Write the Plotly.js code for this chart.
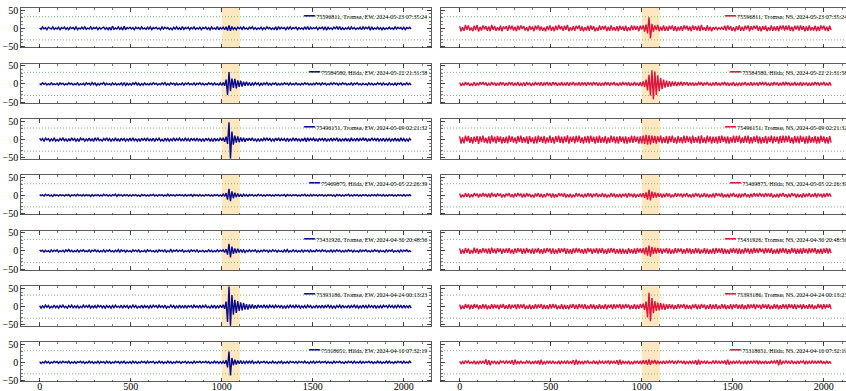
<!DOCTYPE html>
<html><head><meta charset="utf-8">
<script src="https://cdn.plot.ly/plotly-3.0.1.min.js"></script>
<style>html,body{margin:0;padding:0;overflow:hidden;background:#fff}#chart{width:851px;height:391px}</style>
</head><body><div id="chart"></div>
<script>
const sampleStep = 8;
const windowRange = [1000, 1100];
const thresholds = [32, -32];
const xTicks = [0, 500, 1000, 1500, 2000];
const yTicks = [-50, 0, 50];

const labelsEW = [
  "75596811, Tromsø, EW, 2024-05-23 07:35:24",
  "75584580, Hilda, EW, 2024-05-22 21:31:58",
  "75496151, Tromsø, EW, 2024-05-09 02:21:32",
  "75469875, Hilda, EW, 2024-05-05 22:26:39",
  "75431926, Tromsø, EW, 2024-04-30 20:48:56",
  "75393186, Tromsø, EW, 2024-04-24 00:13:23",
  "75318651, Hilda, EW, 2024-04-10 07:32:19"
];
const labelsNS = [
  "75596811, Tromsø, NS, 2024-05-23 07:35:24",
  "75584580, Hilda, NS, 2024-05-22 21:31:58",
  "75496151, Tromsø, NS, 2024-05-09 02:21:32",
  "75469875, Hilda, NS, 2024-05-05 22:26:39",
  "75431926, Tromsø, NS, 2024-04-30 20:48:56",
  "75393186, Tromsø, NS, 2024-04-24 00:13:23",
  "75318651, Hilda, NS, 2024-04-10 07:32:19"
];

const ew1 = [1,-3,4,-2,2,-4,3,0,-2,4,-3,1,-2,3,-4,2,
-1,3,-3,2,-4,3,-1,2,-3,5,-4,1,-2,3,-2,4,
-3,1,-2,4,-3,2,-1,3,-4,2,-2,1,3,-3,2,-4,
3,-5,6,-3,1,-2,4,-3,2,-5,6,-4,2,-1,3,-2,
2,-4,3,-1,2,-3,4,-2,1,-3,3,-2,4,-4,2,-1,
3,-2,1,-4,4,-2,3,-1,2,-3,1,-4,3,-2,4,-3,
2,-4,5,-3,2,-1,3,-4,2,-2,4,-3,1,-2,3,-4,
2,-1,3,-3,2,-4,4,-2,1,-3,5,-4,2,-2,3,-4,
4,-6,8,-7,5,-3,2,-4,3,-1,3,-3,4,-2,1,-3,
3,-1,4,-3,2,-3,1,-2,3,-4,2,-3,4,-1,2,-3,
1,-3,4,-5,5,-2,3,-1,2,-4,3,-2,4,-3,2,-1,
3,-4,2,-2,1,-3,4,-3,5,-4,3,-2,2,-1,3,-4,
2,-1,3,-3,4,-5,3,-2,1,-3,3,-1,4,-3,5,-4,
2,-3,1,-2,3,-4,4,-2,2,-3,1,-2,3,-4,4,-2,
3,-1,4,-5,4,-3,1,-2,3,-3,2,-4,2,-3,1,-2,
3,-2,1,-3,4,-2,3,-1,2,-3,3,-4,2,-1,3,-2];

const ew2 = [1,-2,3,-1,2,-3,1,-2,3,-2,1,-2,2,-3,3,-1,
2,-3,1,-2,3,-1,2,-3,1,-2,3,-3,1,-2,2,-3,
3,-1,2,-3,4,-2,3,-4,1,-3,2,-1,4,-3,2,-2,
1,-3,3,-2,2,-3,1,-2,3,-3,4,-4,2,-3,1,-3,
3,-1,4,-3,2,-4,1,-3,3,-2,1,-3,2,-2,3,-1,
2,-3,1,-2,3,-2,4,-3,1,-3,3,-1,2,-3,2,-3,
1,-2,3,-3,2,-1,3,-2,1,-2,3,-3,2,-1,3,-2,
2,-3,1,-2,3,-1,2,-3,3,-2,1,-3,3,-4,4,-5,
12,-30,33,-20,15,-11,14,-12,10,-8,9,-7,6,-5,6,-4,
4,-5,3,-3,4,-2,3,-4,2,-3,3,-2,4,-3,2,-3,
2,-1,3,-3,1,-3,2,-2,3,-1,2,-3,3,-2,1,-2,
3,-2,1,-3,2,-2,3,-1,2,-3,1,-3,2,-2,3,-1,
2,-3,3,-1,2,-3,1,-2,3,-2,3,-1,2,-3,2,-2,
3,-1,2,-3,1,-2,3,-3,2,-1,3,-2,1,-3,2,-2,
1,-3,3,-2,2,-3,1,-2,3,-1,2,-3,3,-2,1,-3,
3,-2,1,-3,2,-3,2,-1,3,-3,1,-2,3,-2,2,-3];

const ew3 = [4,-2,3,-5,4,-1,3,-4,2,-3,5,-4,1,-4,3,-2,
4,-3,2,-5,3,-4,5,-2,3,-4,2,-5,4,-1,3,-4,
2,-3,4,-4,3,-5,5,-2,4,-3,1,-4,3,-2,5,-3,
3,-4,2,-3,5,-4,3,-5,4,-2,3,-4,2,-3,4,-4,
5,-3,2,-4,3,-5,4,-2,3,-3,5,-4,2,-3,4,-5,
3,-2,4,-4,1,-5,4,-3,3,-4,2,-3,5,-4,3,-2,
4,-3,2,-4,5,-3,3,-5,4,-2,3,-4,4,-3,2,-4,
3,-5,4,-2,3,-4,2,-5,4,-3,2,-4,5,-3,5,-6,
8,-12,48,-53,22,-14,11,-8,9,-7,6,-5,5,-6,4,-3,
4,-3,5,-4,2,-4,3,-5,3,-4,4,-2,5,-3,4,-4,
2,-4,4,-3,5,-4,3,-2,3,-5,4,-4,2,-3,5,-4,
4,-3,2,-4,3,-4,5,-6,5,-3,3,-2,4,-4,3,-5,
4,-2,3,-3,4,-5,2,-3,4,-4,3,-2,5,-5,3,-4,
2,-3,4,-4,3,-5,5,-4,2,-3,4,-4,3,-2,4,-3,
4,-5,3,-4,5,-2,3,-3,4,-4,2,-3,4,-5,3,-3,
3,-4,2,-3,4,-4,3,-5,5,-3,3,-4,2,-4,3,-2];

const ew4 = [2,-1,1,-2,3,-1,2,-2,1,-3,2,-1,1,-2,2,-1,
1,-2,2,-1,2,-3,1,-1,2,-2,3,-1,1,-2,2,-2,
2,-1,1,-3,2,-2,1,-1,2,-2,1,-2,3,-1,2,-2,
1,-2,2,-1,3,-3,2,-1,1,-2,2,-1,2,-2,1,-2,
2,-1,2,-2,1,-3,2,-1,2,-2,1,-2,2,-1,3,-2,
1,-2,2,-1,2,-2,1,-2,3,-2,2,-1,1,-2,2,-1,
2,-1,1,-2,2,-2,1,-1,2,-3,2,-1,1,-2,2,-2,
1,-2,2,-1,2,-2,1,-2,2,-1,2,-2,1,-2,3,-3,
6,-12,18,-16,11,-8,7,-5,5,-4,3,-4,3,-2,2,-3,
2,-1,2,-2,1,-2,3,-1,2,-2,1,-2,2,-1,2,-2,
1,-2,2,-1,2,-2,1,-1,2,-3,2,-1,1,-2,2,-1,
2,-2,1,-2,2,-1,3,-2,1,-2,2,-2,2,-1,1,-2,
2,-1,2,-2,1,-2,2,-1,2,-2,1,-3,2,-1,2,-2,
1,-2,2,-1,3,-2,1,-2,2,-1,2,-2,1,-2,2,-1,
2,-2,1,-2,2,-1,2,-2,3,-1,1,-2,2,-2,1,-2,
2,-1,2,-2,1,-2,2,-1,1,-2,2,-2,1,-1,2,-2];

const ew5 = [3,-1,2,-3,2,-2,1,-3,3,-2,2,-1,3,-3,1,-2,
2,-3,3,-1,4,-2,2,-3,1,-2,3,-3,2,-1,3,-2,
1,-2,3,-3,2,-1,3,-2,2,-3,1,-2,3,-3,2,-1,
3,-2,1,-3,2,-2,4,-4,3,-1,2,-3,2,-2,1,-3,
3,-1,2,-2,3,-3,1,-2,2,-3,3,-1,2,-2,1,-3,
2,-3,3,-1,2,-2,3,-3,1,-2,4,-3,2,-1,3,-2,
2,-1,3,-3,1,-2,2,-3,3,-1,2,-2,3,-3,1,-2,
2,-3,1,-2,3,-2,2,-3,1,-2,3,-2,2,-1,3,-4,
5,-10,20,-18,12,-8,7,-6,6,-4,4,-3,3,-4,2,-2,
3,-2,2,-1,3,-3,1,-3,2,-2,3,-1,2,-3,2,-2,
3,-1,2,-3,2,-2,1,-3,3,-2,4,-3,1,-2,3,-2,
2,-3,1,-2,3,-3,2,-1,2,-3,3,-2,1,-2,3,-1,
2,-2,3,-1,2,-3,1,-2,3,-3,2,-2,3,-1,2,-3,
1,-3,2,-2,3,-1,2,-3,2,-2,1,-3,3,-2,2,-1,
3,-2,1,-3,2,-2,3,-1,2,-3,2,-2,1,-3,3,-2,
2,-1,3,-3,1,-2,2,-3,3,-2,2,-1,3,-2,1,-2];

const ew6 = [3,-4,2,-3,4,-2,3,-4,1,-3,4,-3,2,-4,3,-2,
4,-3,1,-4,3,-2,4,-3,2,-3,3,-4,1,-3,4,-2,
3,-2,4,-4,2,-3,3,-4,4,-1,3,-3,2,-4,3,-2,
2,-4,3,-3,4,-2,1,-3,4,-4,3,-2,3,-4,2,-3,
4,-2,3,-4,1,-3,4,-4,3,-2,2,-4,3,-3,4,-1,
3,-4,4,-2,2,-3,4,-4,1,-3,4,-2,3,-4,2,-3,
4,-3,2,-3,4,-4,3,-1,3,-4,4,-2,2,-3,4,-4,
3,-2,4,-3,1,-4,3,-3,4,-4,2,-3,4,-3,5,-6,
14,-42,56,-54,32,-22,19,-17,15,-12,12,-10,10,-8,7,-8,
6,-5,6,-5,4,-5,5,-3,4,-4,5,-3,3,-4,4,-2,
3,-4,4,-2,3,-3,4,-4,2,-4,3,-3,4,-2,3,-4,
4,-2,3,-4,2,-3,3,-4,4,-2,3,-4,1,-3,4,-3,
2,-3,4,-4,3,-2,4,-3,3,-4,2,-4,3,-2,4,-4,
4,-3,1,-3,4,-4,3,-2,4,-3,3,-4,2,-3,4,-3,
3,-4,4,-2,3,-3,4,-4,2,-3,3,-4,4,-1,3,-3,
4,-2,3,-4,3,-3,4,-2,3,-4,4,-3,2,-3,4,-4];

const ew7 = [2,-3,1,-2,3,-2,2,-3,1,-2,3,-1,2,-3,2,-2,
3,-1,2,-2,3,-3,1,-2,2,-3,2,-1,3,-2,2,-3,
1,-2,3,-2,2,-3,1,-2,3,-3,2,-1,2,-3,3,-2,
2,-3,1,-2,3,-1,2,-3,2,-2,3,-3,1,-2,2,-3,
3,-2,2,-3,1,-2,3,-1,2,-3,3,-2,2,-1,3,-3,
1,-2,3,-2,2,-3,1,-2,3,-2,2,-3,1,-2,3,-1,
2,-3,2,-1,3,-3,2,-2,1,-3,3,-2,2,-1,3,-2,
2,-1,3,-2,2,-3,1,-2,3,-2,2,-3,2,-3,3,-4,
6,-14,30,-36,12,-8,7,-6,5,-4,5,-4,3,-3,3,-2,
3,-2,4,-3,1,-2,3,-3,2,-1,3,-2,2,-3,1,-2,
3,-2,1,-3,2,-2,3,-3,1,-2,2,-3,3,-1,2,-2,
2,-3,3,-1,2,-2,3,-2,1,-3,2,-2,3,-3,2,-1,
3,-2,2,-1,3,-3,2,-2,1,-3,3,-2,2,-1,3,-2,
1,-3,2,-2,3,-1,2,-3,3,-2,1,-2,3,-3,2,-2,
2,-1,3,-2,2,-3,1,-2,3,-2,2,-3,1,-2,3,-2,
3,-2,1,-3,2,-2,3,-1,2,-3,3,-2,1,-2,3,-2];

const ns1 = [6,-8,3,-7,9,-4,8,-6,2,-8,7,-5,9,-9,4,-6,
8,-3,6,-7,5,-8,9,-4,6,-7,3,-6,7,-8,5,-2,
6,-7,8,-3,7,-6,4,-8,7,-5,8,-2,6,-6,3,-8,
7,-4,5,-8,7,-3,8,-6,5,-7,2,-8,6,-5,8,-7,
4,-8,7,-5,9,-3,6,-7,7,-4,9,-8,3,-6,6,-7,
7,-2,8,-7,5,-8,3,-6,7,-7,8,-4,6,-8,2,-7,
8,-5,6,-3,7,-8,4,-7,8,-6,3,-7,6,-8,7,-4,
5,-7,7,-8,3,-6,8,-5,7,-4,6,-8,7,-3,8,-9,
10,-14,30,-28,12,-9,8,-5,9,-8,4,-6,8,-7,5,-7,
7,-3,8,-7,6,-8,4,-6,6,-7,8,-3,7,-6,5,-8,
8,-4,6,-6,7,-8,9,-5,3,-7,8,-6,4,-8,3,-2,
3,-4,2,-3,3,-4,7,-6,8,-4,6,-7,3,-8,6,-5,
8,-7,4,-7,7,-3,8,-8,6,-5,7,-2,8,-7,5,-8,
6,-4,7,-8,3,-6,8,-7,5,-6,6,-8,7,-3,8,-6,
7,-5,8,-7,4,-8,7,-3,7,-6,8,-4,6,-8,5,-7,
8,-6,3,-6,7,-8,5,-7,8,-3,7,-6,4,-8,7,-5];

const ns2 = [4,-5,2,-4,5,-3,4,-5,1,-4,5,-5,3,-4,5,-2,
5,-3,4,-5,2,-4,5,-3,4,-5,3,-4,5,-2,4,-5,
3,-4,5,-2,4,-5,3,-4,5,-5,2,-4,4,-5,5,-3,
4,-5,2,-4,5,-3,4,-4,5,-5,3,-2,5,-4,4,-5,
5,-2,4,-5,3,-4,5,-4,2,-4,5,-5,4,-3,5,-4,
3,-4,5,-5,4,-2,4,-5,5,-3,4,-4,5,-2,4,-5,
4,-5,3,-4,5,-2,4,-5,4,-3,5,-4,2,-5,4,-4,
5,-3,4,-4,5,-5,2,-4,5,-4,3,-5,5,-6,7,-8,
12,-18,25,-32,38,-42,34,-30,24,-20,16,-14,12,-10,9,-8,
8,-7,7,-5,6,-6,5,-4,6,-5,5,-3,5,-5,4,-4,
4,-5,3,-4,4,-2,5,-5,4,-3,5,-4,2,-5,4,-4,
5,-4,3,-5,4,-2,5,-4,4,-5,3,-4,5,-5,2,-4,
4,-5,4,-3,5,-4,2,-4,5,-5,4,-3,4,-5,5,-2,
4,-3,5,-4,2,-5,4,-4,5,-3,4,-5,3,-4,5,-4,
5,-2,4,-5,3,-4,5,-4,2,-4,5,-5,4,-3,4,-5,
3,-5,4,-4,5,-2,4,-5,4,-3,5,-4,2,-4,5,-5];

const ns3 = [9,-11,6,-10,11,-5,10,-9,7,-11,8,-6,10,-12,9,-7,
11,-8,5,-10,9,-11,12,-7,8,-10,10,-6,9,-11,7,-9,
8,-10,11,-6,9,-8,6,-11,10,-7,11,-9,7,-8,9,-12,
10,-7,6,-11,9,-10,11,-6,8,-9,10,-11,6,-8,11,-9,
7,-11,10,-6,11,-9,8,-10,9,-7,12,-11,8,-6,9,-10,
10,-7,11,-9,6,-11,9,-8,10,-10,11,-6,8,-11,9,-9,
11,-9,7,-8,10,-11,6,-9,11,-7,9,-10,8,-11,10,-6,
8,-10,9,-11,7,-8,11,-9,10,-6,8,-11,9,-10,11,-12,
13,-14,12,-13,11,-9,10,-11,9,-7,11,-10,7,-9,10,-11,
10,-7,11,-9,6,-11,10,-8,7,-10,11,-9,10,-7,8,-11,
11,-9,7,-8,10,-11,12,-9,6,-10,11,-7,9,-11,8,-9,
8,-11,10,-9,11,-6,8,-10,9,-11,7,-8,11,-9,10,-7,
11,-10,6,-9,10,-8,11,-11,7,-10,9,-6,11,-10,8,-11,
7,-9,10,-11,8,-7,11,-10,9,-6,8,-11,10,-9,11,-8,
10,-7,11,-9,6,-11,10,-8,9,-10,11,-6,8,-11,9,-10,
11,-9,7,-8,10,-11,8,-10,11,-6,9,-10,7,-11,10,-8];

const ns4 = [5,-6,2,-5,6,-4,5,-6,3,-5,6,-2,5,-6,4,-4,
6,-3,4,-5,5,-6,7,-3,4,-5,6,-2,5,-6,3,-5,
5,-2,6,-5,3,-6,5,-4,6,-2,5,-6,4,-5,6,-3,
4,-5,2,-6,5,-3,6,-5,4,-6,3,-5,6,-2,5,-6,
5,-6,3,-5,6,-2,5,-4,6,-6,3,-5,4,-6,2,-5,
6,-3,5,-4,2,-6,4,-5,6,-3,5,-6,4,-2,6,-5,
3,-4,6,-5,4,-6,2,-5,6,-4,5,-6,3,-5,4,-6,
4,-3,5,-6,6,-2,4,-5,5,-6,3,-4,5,-5,6,-7,
8,-12,15,-14,10,-7,8,-6,6,-4,5,-6,4,-5,6,-3,
5,-6,2,-5,6,-4,5,-3,5,-6,4,-2,6,-5,3,-6,
4,-5,6,-3,5,-6,2,-4,6,-5,4,-6,3,-5,5,-6,
6,-2,5,-4,6,-6,3,-5,4,-6,5,-3,6,-4,2,-6,
5,-6,4,-2,6,-5,3,-6,4,-5,6,-3,5,-4,6,-2,
4,-5,6,-3,5,-4,6,-6,2,-5,4,-6,5,-3,6,-4,
3,-6,4,-5,6,-2,5,-6,4,-5,3,-6,6,-5,4,-2,
6,-5,3,-4,6,-6,5,-2,4,-6,5,-5,6,-3,5,-4];

const ns5 = [7,-8,4,-7,8,-5,7,-8,3,-7,9,-6,7,-8,5,-6,
8,-4,6,-7,7,-8,9,-5,6,-7,8,-3,7,-8,6,-5,
7,-5,8,-7,4,-8,7,-6,8,-3,7,-8,6,-7,8,-4,
5,-7,7,-8,6,-4,8,-7,5,-8,7,-6,8,-3,7,-8,
7,-8,4,-7,8,-6,7,-3,8,-8,6,-7,5,-8,7,-6,
8,-4,7,-6,5,-8,6,-7,8,-3,7,-8,6,-5,8,-7,
7,-5,8,-7,4,-8,7,-6,8,-4,7,-8,5,-7,6,-8,
6,-7,4,-8,8,-6,5,-7,7,-8,8,-4,7,-6,8,-9,
10,-13,15,-16,11,-8,9,-7,8,-5,7,-8,6,-4,8,-7,
7,-8,4,-7,8,-6,7,-3,7,-8,5,-7,8,-6,7,-8,
5,-7,8,-6,7,-8,4,-6,8,-7,6,-8,4,-7,7,-8,
8,-5,7,-6,8,-8,6,-7,4,-8,7,-5,8,-6,7,-8,
7,-8,5,-7,8,-4,7,-8,6,-7,8,-5,7,-6,8,-3,
6,-7,8,-5,7,-6,8,-8,4,-7,6,-8,7,-5,8,-6,
7,-8,5,-7,8,-4,7,-8,6,-7,7,-8,8,-5,6,-7,
8,-6,7,-4,8,-8,5,-7,6,-8,7,-5,8,-7,7,-6];

const ns6 = [6,-7,3,-6,7,-4,6,-7,5,-6,7,-3,6,-7,4,-6,
7,-5,6,-7,3,-6,7,-5,6,-4,5,-7,6,-3,7,-6,
4,-6,7,-7,5,-3,6,-7,7,-5,6,-4,7,-7,3,-6,
6,-7,4,-6,7,-5,6,-3,7,-7,5,-6,4,-7,7,-5,
7,-4,6,-7,3,-6,7,-7,5,-6,4,-7,6,-3,7,-6,
5,-7,7,-4,6,-6,7,-7,3,-6,7,-5,6,-7,4,-6,
7,-6,4,-6,7,-7,5,-3,6,-7,7,-5,6,-4,7,-7,
6,-5,7,-3,6,-7,4,-6,7,-7,5,-6,7,-4,8,-9,
14,-30,38,-40,24,-18,15,-12,11,-10,10,-8,8,-9,7,-6,
7,-5,6,-7,4,-6,7,-5,6,-3,7,-7,5,-6,4,-7,
6,-4,7,-7,5,-6,7,-3,6,-7,4,-6,7,-7,5,-6,
7,-7,3,-6,7,-5,6,-7,4,-6,7,-7,6,-3,7,-6,
5,-6,7,-7,4,-7,7,-5,6,-4,7,-7,6,-3,5,-7,
7,-4,6,-6,7,-7,3,-6,7,-5,6,-7,4,-6,7,-5,
6,-7,7,-4,6,-6,7,-7,5,-3,6,-7,7,-5,4,-6,
7,-5,6,-7,3,-6,7,-4,6,-7,7,-5,6,-3,7,-7];

const ns7 = [3,-4,2,-4,5,-2,4,-3,1,-3,4,-5,2,-4,3,-2,
3,-4,8,-7,6,-8,4,-2,3,-4,2,-5,4,-1,3,-4,
4,-2,3,-4,6,-7,7,-5,2,-3,4,-3,1,-3,4,-2,
3,-4,2,-3,4,-4,5,-6,7,-6,2,-4,3,-2,3,-4,
4,-3,1,-3,4,-5,3,-2,3,-4,5,-3,2,-3,6,-7,
7,-6,4,-3,2,-5,4,-2,4,-3,1,-3,5,-4,2,-4,
4,-2,3,-4,3,-2,5,-5,4,-2,3,-4,6,-7,7,-6,
4,-3,2,-3,4,-4,1,-5,4,-2,3,-4,4,-5,6,-5,
6,-7,8,-7,5,-3,6,-5,4,-3,2,-3,4,-4,3,-2,
4,-2,5,-4,3,-3,4,-1,3,-4,4,-5,2,-3,4,-3,
3,-4,6,-7,7,-6,4,-2,3,-4,4,-3,1,-3,5,-4,
4,-2,3,-4,4,-3,5,-6,7,-6,2,-3,4,-4,3,-2,
4,-3,2,-3,4,-5,4,-2,3,-4,4,-2,5,-5,4,-3,
2,-3,4,-4,3,-4,5,-3,4,-2,6,-8,7,-6,3,-2,
4,-2,3,-4,5,-3,2,-3,4,-4,3,-1,4,-5,4,-3,
3,-4,4,-2,3,-4,4,-3,5,-4,2,-3,4,-4,3,-4];

const seriesEW = [ew1, ew2, ew3, ew4, ew5, ew6, ew7];
const seriesNS = [ns1, ns2, ns3, ns4, ns5, ns6, ns7];

const W = 851, H = 391;
const colEW = '#0a0a8a', colNS = '#dc143c';
const serif = 'Liberation Serif, DejaVu Serif, serif';
const data = [], shapes = [], annotations = [];
const layout = {
  width: W, height: H, margin: {l: 0, r: 0, t: 0, b: 0},
  paper_bgcolor: '#fff', plot_bgcolor: '#fff',
  font: {family: serif, size: 10, color: '#000'},
  showlegend: false, shapes: shapes, annotations: annotations
};

function addPanel(k, series, label, color, xd, yd, topPx, showX, showY) {
  const s = k === 1 ? '' : String(k);
  data.push({
    type: 'scatter', mode: 'lines', x0: 0, dx: sampleStep, y: series,
    xaxis: 'x' + s, yaxis: 'y' + s, name: label,
    line: {color: color, width: 1.4}, hoverinfo: 'skip'
  });
  const common = {
    ticks: 'inside', ticklen: 4, tickwidth: 0.8, tickcolor: '#222',
    showline: true, linecolor: '#333', linewidth: 0.8, mirror: 'ticks',
    showgrid: false, zeroline: false, automargin: false,
    tickfont: {family: serif, size: 10, color: '#000'}
  };
  layout['xaxis' + s] = Object.assign({}, common, {
    domain: xd, anchor: 'y' + s, range: [-102.35, 2149.35],
    tickmode: 'array', tickvals: xTicks, showticklabels: showX, ticklabelstandoff: -4,
    minor: {ticks: 'inside', dtick: 100, tick0: 0, ticklen: 2, tickwidth: 0.6, tickcolor: '#222'}
  });
  layout['yaxis' + s] = Object.assign({}, common, {
    domain: yd, anchor: 'x' + s, range: [-53, 56],
    tickmode: 'array', tickvals: yTicks, showticklabels: showY,
    minor: {ticks: 'inside', dtick: 10, tick0: 0, ticklen: 2, tickwidth: 0.6, tickcolor: '#222'}
  });
  annotations.push({
    xref: 'paper', yref: 'paper',
    x: xd[1] - 3 / W, xanchor: 'right',
    y: 1 - (topPx + 8) / H, yanchor: 'middle',
    showarrow: false, borderpad: 0,
    text: '<span style="fill:' + color + ';color:' + color + ';font-family:DejaVu Sans;font-size:9px">━━</span> ' + label,
    font: {family: serif, size: 6, color: '#000'}
  });
  shapes.push({
    type: 'rect', xref: 'x' + s, yref: 'y' + s + ' domain',
    x0: windowRange[0], x1: windowRange[1], y0: 0, y1: 1,
    fillcolor: 'rgba(255,165,0,0.25)', line: {width: 0}, layer: 'below'
  });
  thresholds.forEach(t => shapes.push({
    type: 'line', xref: 'x' + s + ' domain', yref: 'y' + s,
    x0: 0, x1: 1, y0: t, y1: t,
    line: {color: 'rgb(100,180,100)', width: 0.9, dash: '1px,2px'}, layer: 'below'
  }));
}

const xdL = [21 / W, 431 / W], xdR = [441 / W, 1];
for (let i = 0; i < 7; i++) {
  const top = 8 + i * 55.67, bot = top + 39.5;
  const yd = [1 - bot / H, 1 - top / H];
  addPanel(i + 1, seriesEW[i], labelsEW[i], colEW, xdL, yd, top, i === 6, true);
  addPanel(i + 8, seriesNS[i], labelsNS[i], colNS, xdR, yd, top, i === 6, false);
}

Plotly.newPlot('chart', data, layout, {staticPlot: true, displayModeBar: false});
</script>
</body></html>
